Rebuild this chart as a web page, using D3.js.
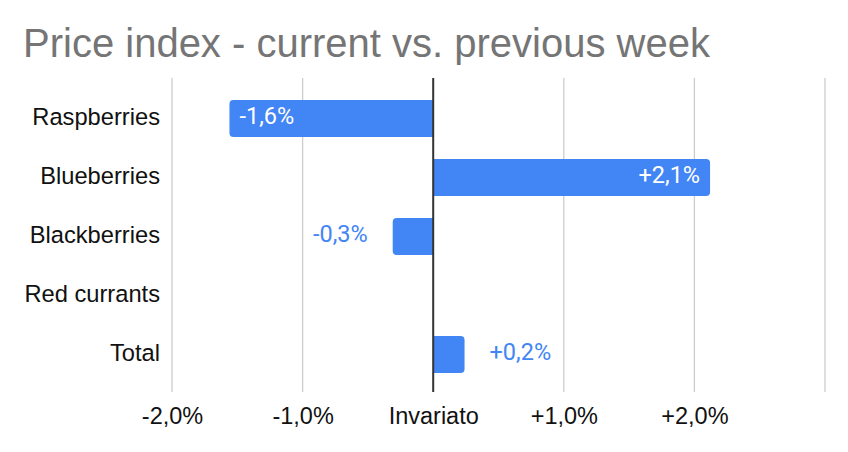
<!DOCTYPE html>
<html><head><meta charset="utf-8">
<script src="https://cdn.jsdelivr.net/npm/d3@7"></script>
<style>body{margin:0;background:#fff}svg{display:block}</style>
</head><body><svg id="c" width="848" height="452"></svg>
<script>
const categories = ["Raspberries","Blueberries","Blackberries","Red currants","Total"];
const values = [-1.56, 2.12, -0.31, 0, 0.24];
const tickValues = [-2, -1, 0, 1, 2, 3];
const tickLabels = ["-2,0%","-1,0%","Invariato","+1,0%","+2,0%",""];
const title = "Price index - current vs. previous week";

const svg = d3.select("#c");
const x = d3.scaleLinear().domain([-2, 3]).range([172, 825]);
const y = d3.scaleBand().domain(categories).range([89, 384]).paddingInner(0.37).paddingOuter(0.185);
const blue = "#4285F4";
const arial = "Liberation Sans, Arial, sans-serif";

svg.append("text").attr("x", 23).attr("y", 57).text(title)
  .attr("font-family", arial).attr("font-size", 40).attr("fill", "#757575");

// grid
svg.append("g").selectAll("line").data(tickValues.filter(v => v !== 0)).join("line")
  .attr("x1", d => x(d)).attr("x2", d => x(d)).attr("y1", 78).attr("y2", 392)
  .attr("stroke", "#cccccc").attr("stroke-width", 1.3);

// x axis labels
const xAxis = d3.axisBottom(x).tickValues(tickValues).tickFormat((d, i) => tickLabels[i]).tickSize(0).tickPadding(0);
const gx = svg.append("g").attr("transform", "translate(0,424)").call(xAxis);
gx.select(".domain").remove();
gx.selectAll("text").attr("font-family", arial).attr("font-size", 23.5).attr("fill", "#111").attr("y", 0).attr("dy", 0);

// y axis labels
const yAxis = d3.axisLeft(y).tickSize(0).tickPadding(0);
const gy = svg.append("g").attr("transform", "translate(160,0)").call(yAxis);
gy.select(".domain").remove();
gy.selectAll("text").attr("font-family", arial).attr("font-size", 23.7).attr("fill", "#111").attr("dy", "0.26em");

// bars
function barPath(v, yy, h) {
  const x0 = x(0), x1 = x(v), r = 4;
  if (Math.abs(x1 - x0) < 0.5) return "";
  const w = Math.abs(x1 - x0);
  const rr = Math.min(r, w);
  if (v > 0) {
    return `M${x0},${yy}H${x1 - rr}Q${x1},${yy} ${x1},${yy + rr}V${yy + h - rr}Q${x1},${yy + h} ${x1 - rr},${yy + h}H${x0}Z`;
  } else {
    return `M${x0},${yy}H${x1 + rr}Q${x1},${yy} ${x1},${yy + rr}V${yy + h - rr}Q${x1},${yy + h} ${x1 + rr},${yy + h}H${x0}Z`;
  }
}
const data = categories.map((c, i) => ({c, v: values[i]}));
svg.append("g").selectAll("path").data(data).join("path")
  .attr("d", d => barPath(d.v, y(d.c), y.bandwidth())).attr("fill", blue);

// zero line
svg.append("line").attr("x1", x(0)).attr("x2", x(0)).attr("y1", 78).attr("y2", 392)
  .attr("stroke", "#333").attr("stroke-width", 2);

// data labels
const fmt = v => (v > 0 ? "+" : (v < 0 ? "-" : "")) + Math.abs(v).toFixed(1).replace(".", ",") + "%";
const lbl = svg.append("g");
data.forEach(d => {
  if (d.v === 0) return;
  const t = lbl.append("text").text(fmt(d.v))
    .attr("font-family", "Roboto, sans-serif").attr("font-size", 23.5)
    .attr("y", y(d.c) + y.bandwidth() / 2 + 5);
  const tw = t.node().getComputedTextLength();
  const w = Math.abs(x(d.v) - x(0));
  const inside = w > tw + 20;
  if (d.v < 0) {
    if (inside) t.attr("x", x(d.v) + 10).attr("text-anchor", "start").attr("fill", "#fff");
    else t.attr("x", x(d.v) - 25).attr("text-anchor", "end").attr("fill", blue);
  } else {
    if (inside) t.attr("x", x(d.v) - 10).attr("text-anchor", "end").attr("fill", "#fff");
    else t.attr("x", x(d.v) + 25).attr("text-anchor", "start").attr("fill", blue);
  }
});
</script></body></html>
